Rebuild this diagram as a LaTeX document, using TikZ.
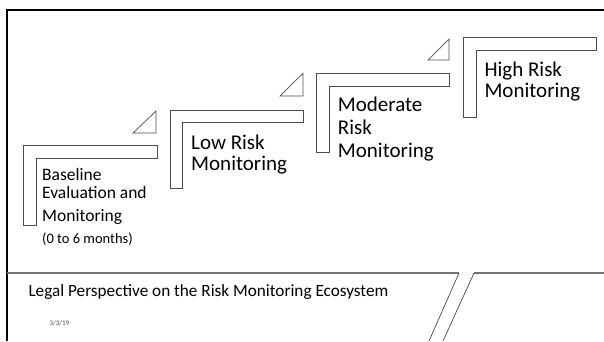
\documentclass[tikz,border=0pt]{standalone}
\usepackage{fontspec}
\setmainfont{Carlito}
\usepackage{tikz}

\tikzset{
  lshape/.style={draw=black!70, line width=0.7pt, fill=white},
  corner/.style={draw=black!70, line width=0.7pt},
  steptext/.style={anchor=base west, inner sep=0pt, font=\fontsize{21}{22}\selectfont},
  basetext/.style={anchor=base west, inner sep=0pt, font=\fontsize{17.5}{18}\selectfont},
}

\begin{document}
\begin{tikzpicture}[x=1pt, y=-1pt]
        \useasboundingbox (0,0) rectangle (604,341);
        % Frame
        \draw[line width=2.6pt] (7,341) -- (7,10) -- (604,10);
        \draw[black!55, line width=1.2pt] (7,273) -- (459,273);
        \draw[black!55, line width=1.2pt] (474,273) -- (604,273);
        \draw[black!80, line width=0.6pt] (459,273) -- (429,341);
        \draw[black!80, line width=0.6pt] (474,273) -- (443,341);

        % Steps
        \draw[lshape] (23,145) -- ++(134,0) -- ++(0,13) -- ++(-121,0) -- ++(0,67) -- ++(-13,0) -- cycle;
        \draw[lshape] (170,110) -- ++(133,0) -- ++(0,12.5) -- ++(-120.5,0) -- ++(0,66) -- ++(-12.5,0) -- cycle;
        \draw[lshape] (316.5,73.3) -- ++(132.5,0) -- ++(0,12.7) -- ++(-120,0) -- ++(0,66) -- ++(-12.5,0) -- cycle;
        \draw[lshape] (463.3,37.7) -- ++(133.4,0) -- ++(0,13) -- ++(-120.7,0) -- ++(0,66.6) -- ++(-12.7,0) -- cycle;

        % Corners
        \draw[corner] (133,133) -- (156,133) -- (156,111) -- cycle;
        \draw[corner] (280,96) -- (303,96) -- (303,73.3) -- cycle;
        \draw[corner] (428,60) -- (449,60) -- (449,39) -- cycle;

        % Labels
        \node[basetext] (base1) at (42,180) {Baseline};
        \node[basetext] (base2) at (42,198) {Evaluation and};
        \node[basetext] (base3) at (42,221) {Monitoring};
        \node[basetext, font=\fontsize{14.5}{16}\selectfont] (months) at (42,243) {(0 to 6 months)};
        \node[steptext] (low1) at (191,149.3) {Low Risk};
        \node[steptext] (low2) at (191,170.5) {Monitoring};
        \node[steptext] (mod1) at (337.7,111.3) {Moderate};
        \node[steptext] (mod2) at (337.7,134.5) {Risk};
        \node[steptext] (mod3) at (337.7,157) {Monitoring};
        \node[steptext] (high1) at (484.3,76) {High Risk};
        \node[steptext] (high2) at (484.3,97.7) {Monitoring};

        % Footer
        \node[anchor=base west, inner sep=0pt, font=\fontsize{17.2}{18}\selectfont] (title) at (28.3,296.7) {Legal Perspective on the Risk Monitoring Ecosystem};
        \node[anchor=base west, inner sep=0pt, text=black!70, font=\fontsize{7}{8}\selectfont] (date) at (49.3,325.7) {3/3/19};
    \end{tikzpicture}
\end{document}
